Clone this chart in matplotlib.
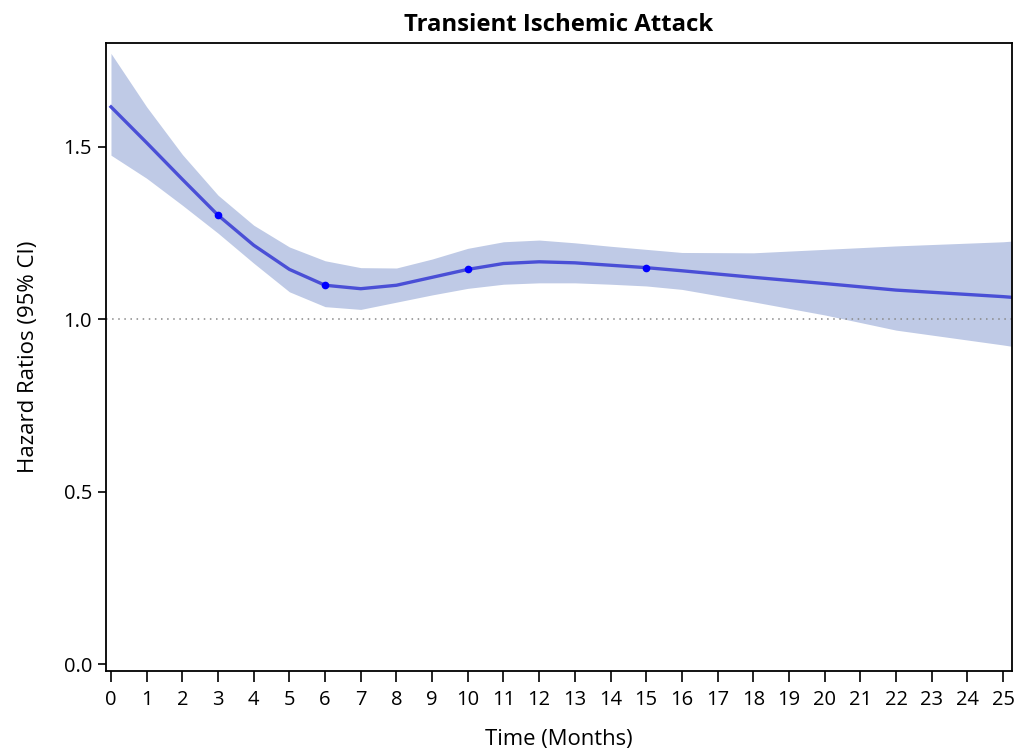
import matplotlib.pyplot as plt
import numpy as np

plt.rcParams["font.family"] = ["Open Sans", "DejaVu Sans"]

# hazard ratio curve over follow-up time with 95% CI band
months = [0, 1, 2, 3, 4, 5, 6, 7, 8, 9, 10, 11, 12, 13, 14, 15, 16, 18, 20, 22, 25, 25.25]
hr = [1.615, 1.511, 1.405, 1.301, 1.214, 1.144, 1.098, 1.088, 1.098, 1.121, 1.144,
      1.161, 1.166, 1.163, 1.156, 1.149, 1.140, 1.121, 1.103, 1.084, 1.065, 1.063]
ci_upper = [1.770, 1.615, 1.477, 1.359, 1.272, 1.209, 1.169, 1.149, 1.148, 1.174, 1.205,
            1.224, 1.229, 1.221, 1.211, 1.202, 1.193, 1.192, 1.202, 1.212, 1.224, 1.226]
ci_lower = [1.475, 1.408, 1.330, 1.249, 1.162, 1.079, 1.036, 1.028, 1.049, 1.070, 1.089,
            1.101, 1.105, 1.105, 1.101, 1.096, 1.086, 1.050, 1.012, 0.968, 0.925, 0.921]

knots = [3, 6, 10, 15]
knot_hr = [hr[months.index(k)] for k in knots]

fig = plt.figure(figsize=(10.32, 7.51), dpi=100)
ax = fig.add_axes([0.1027, 0.1065, 0.8779, 0.8362])

ax.fill_between(months, ci_lower, ci_upper, color="#bfcae6", linewidth=0)
ax.plot(months, hr, color="#4a4fd6", linewidth=2.4)
ax.plot(knots, knot_hr, "o", color="#0000ff", markersize=4.5)
ax.axhline(1.0, color="#888888", linestyle=(0, (1, 3)), linewidth=1.1)

ax.set_xlim(-0.14, 25.25)
ax.set_ylim(-0.02, 1.80)
ax.set_xticks(range(0, 26))
ax.set_yticks([0.0, 0.5, 1.0, 1.5])
ax.set_yticklabels(["0.0", "0.5", "1.0", "1.5"])
ax.tick_params(axis="x", length=8, width=1.2, labelsize=14.5, pad=6)
ax.tick_params(axis="y", length=6, width=1.2, labelsize=14.5, pad=4)
for s in ax.spines.values():
    s.set_linewidth(1.3)

ax.set_xlabel("Time (Months)", fontsize=15.8, labelpad=13)
ax.set_ylabel("Hazard Ratios (95% CI)", fontsize=16, labelpad=18)
ax.set_title("Transient Ischemic Attack", fontsize=17.2, fontweight="bold", pad=9)

fig.savefig("out.png", dpi=100)
